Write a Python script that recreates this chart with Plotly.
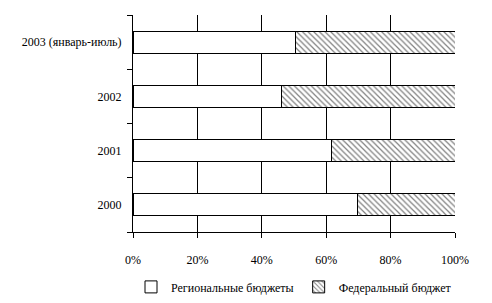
import plotly.graph_objects as go

years = ["2000", "2001", "2002", "2003 (январь-июль)"]
regional = [0.697, 0.616, 0.46, 0.505]
federal = [0.303, 0.384, 0.54, 0.495]
x_ticks = [0, 0.2, 0.4, 0.6, 0.8, 1.0]
x_tick_labels = ["0%", "20%", "40%", "60%", "80%", "100%"]

font = dict(family="Liberation Serif", size=12, color="black")

fig = go.Figure()
fig.add_trace(go.Bar(
    y=years, x=regional, orientation="h", name="Региональные бюджеты",
    marker=dict(color="white", line=dict(color="black", width=1)),
))
fig.add_trace(go.Bar(
    y=years, x=federal, orientation="h", name="Федеральный бюджет",
    marker=dict(color="white", line=dict(color="black", width=1),
                pattern=dict(shape="\\", fgcolor="black", bgcolor="white", size=4, solidity=0.3)),
))
fig.update_layout(
    barmode="stack", bargap=0.593,
    width=492, height=303,
    margin=dict(l=133, r=37, t=15, b=71, autoexpand=False),
    paper_bgcolor="white", plot_bgcolor="white",
    font=font,
    showlegend=True,
    legend=dict(orientation="h", x=0.5, xanchor="center", y=-0.253, yanchor="middle",
                font=font, itemwidth=30, traceorder="normal"),
)
fig.update_xaxes(
    range=[0, 1], tickvals=x_ticks, ticktext=x_tick_labels,
    showgrid=True, gridcolor="black", gridwidth=1, zeroline=False,
    showline=True, linecolor="black", linewidth=1,
    ticks="outside", ticklen=5, tickcolor="black", tickfont=font,
    ticklabelstandoff=12,
)
fig.update_yaxes(
    showgrid=False, zeroline=False,
    showline=True, linecolor="black", linewidth=1,
    ticks="outside", ticklen=5, tickcolor="black", tickson="boundaries",
    tickfont=font, ticklabelstandoff=8,
)
fig.write_html("out.html")
